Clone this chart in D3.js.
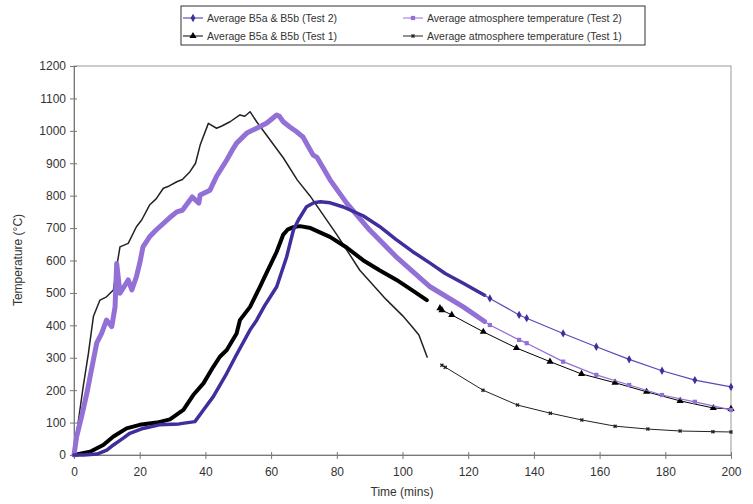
<!DOCTYPE html>
<html><head><meta charset="utf-8">
<script src="https://cdn.jsdelivr.net/npm/d3@7"></script>
<style>
body{margin:0;background:#fff;}
svg{font-family:"Liberation Sans",Arial,sans-serif;}
</style></head>
<body><svg id="c" width="753" height="504"></svg>
<script>
// ---------- data ----------
const xTicks = [0,20,40,60,80,100,120,140,160,180,200];
const yTicks = [0,100,200,300,400,500,600,700,800,900,1000,1100,1200];
const seriesNames = ["Average B5a & B5b (Test 2)","Average atmosphere temperature (Test 2)","Average B5a & B5b (Test 1)","Average atmosphere temperature (Test 1)"];

// Test 2, B5 average (dense logging then sparse)
const t2B5Dense = [[0,0],[3,0],[7,3],[10,15],[12,31],[15,52],[17,67],[21,82],[26,93],[32,96],[36.8,103],[39.4,139],[42.4,180],[46.5,252],[49.5,310],[53.6,386],[55.6,416],[58,460],[61.7,519],[64.7,610],[66.8,694],[68.3,725],[70.8,766],[73,778],[75,781],[78,778],[82,765],[88,738],[93,705],[98,665],[103,628],[108.4,592],[113,560],[118.5,530],[122,510],[125,493]];
const t2B5Sparse = [[125,493],[126.6,483],[135.5,432],[137.8,422],[148.9,375],[159,334],[169,295],[179,260],[189,231],[200,210]];

// Test 2, atmosphere
const t2AtmDense = [[0,0],[0.8,57],[2.3,118],[3.9,190],[4.9,242],[5.9,293],[6.9,345],[8.4,375],[9.9,416],[11.5,396],[12.5,457],[13,591],[14,499],[16.5,540],[17.6,509],[19,550],[20,591],[21,642],[23,673],[25,694],[29,731],[31.3,750],[33,755],[36,796],[38,777],[38.4,802],[41.4,817],[43.4,860],[46.5,910],[48.5,946],[49.5,962],[52.6,993],[55.6,1008],[58.7,1024],[61.7,1049],[62.5,1045],[63.7,1028],[65.7,1012],[67.8,997],[69.7,981],[72.8,925],[73.9,919],[78,848],[83,777],[90,694],[98,612],[108.4,519],[118.5,457],[125,412]];
const t2AtmSparse = [[125,412],[126.6,401],[135.5,355],[137.8,345],[148.9,288],[159,247],[169,216],[179,185],[189,164],[200,139]];

// Test 1, B5 average
const t1B5Dense = [[0,0],[4.9,10],[8.9,31],[12,57],[16,82],[20,93],[25.2,100],[29.2,110],[33.3,139],[36.3,185],[39.4,221],[42.4,272],[44.4,303],[46.5,324],[49.5,375],[50.5,416],[53.6,457],[56.6,519],[57.6,540],[61.7,627],[63.7,680],[65,695],[66.8,703],[68.8,706],[72,700],[77.9,673],[83,640],[88,601],[93,570],[98.2,540],[103,508],[107.4,478]];
const t1B5Sparse = [[111.4,453],[112,447],[115,432],[124.6,380],[134.7,330],[144.9,288],[154.5,250],[164.7,223],[174.3,195],[184.5,167],[194.6,145],[200,142]];

// Test 1, atmosphere
const t1AtmDense = [[0,0],[0.8,67],[2.8,211],[4.4,314],[5.9,427],[7.9,478],[9.9,488],[12,509],[13,581],[14,642],[16.5,653],[19,704],[20.6,725],[23,771],[25,790],[27.2,823],[29,830],[31.3,843],[33,850],[35.3,874],[37,900],[38.4,956],[40.9,1023],[43.4,1008],[45,1015],[47.5,1028],[50.5,1049],[52,1045],[53.6,1059],[55.6,1028],[63.7,917],[68,848],[71.8,800],[80,680],[87,570],[95,480],[100,430],[103,395],[105,370],[107.5,302]];
const t1AtmSparse = [[112,277],[113,271],[124.5,200],[135,154],[145,129],[154.6,108],[164.7,89],[174.7,80],[184.5,74],[194.5,72],[200,71]];

// ---------- chart ----------
const svg = d3.select("#c");
const x = d3.scaleLinear().domain([0,200]).range([74,731]);
const y = d3.scaleLinear().domain([0,1200]).range([455,66]);

const cBlue = "#3f2f9c", cPurple = "#9370d6", cBlack = "#000", cThin = "#222";

// plot border
svg.append("rect").attr("x",x(0)).attr("y",y(1200)).attr("width",x(200)-x(0)).attr("height",y(0)-y(1200))
  .attr("fill","#fff").attr("stroke","#999").attr("stroke-width",1);

// axes
const xAxis = svg.append("g").attr("transform",`translate(0,${y(0)})`)
  .call(d3.axisBottom(x).tickValues(xTicks).tickSize(4).tickFormat(d3.format("d")));
const yAxis = svg.append("g").attr("transform",`translate(${x(0)},0)`)
  .call(d3.axisLeft(y).tickValues(yTicks).tickSize(4).tickFormat(d3.format("d")));
[xAxis,yAxis].forEach(g=>{
  g.select(".domain").attr("stroke","#777");
  g.selectAll(".tick line").attr("stroke","#777");
  g.selectAll(".tick text").attr("fill","#333").style("font-size","12px");
});
xAxis.selectAll(".tick line").attr("y1",-3);
xAxis.selectAll(".tick text").attr("dy","1.2em");
yAxis.selectAll(".tick line").attr("x1",3);
yAxis.selectAll(".tick text").attr("x",-8);

svg.append("text").attr("x",402).attr("y",496).attr("text-anchor","middle")
  .attr("fill","#333").style("font-size","12px").text("Time (mins)");
svg.append("text").attr("transform","translate(22,260) rotate(-90)").attr("text-anchor","middle")
  .attr("fill","#333").style("font-size","12px").text("Temperature (°C)");

const line = d3.line().x(d=>x(d[0])).y(d=>y(d[1]));
const plot = svg.append("g");

function path(data,color,w){
  plot.append("path").datum(data).attr("d",line).attr("fill","none")
    .attr("stroke",color).attr("stroke-width",w).attr("stroke-linejoin","round").attr("stroke-linecap","round");
}
const sym = {
  diamond: d3.symbol().type(d3.symbolDiamond).size(20),
  square: d3.symbol().type(d3.symbolSquare).size(18),
  triangle: d3.symbol().type(d3.symbolTriangle).size(22),
  cross: d3.symbol().type(d3.symbolCross).size(10)
};
function markers(data,color,s,skipFirst){
  const d = skipFirst ? data.slice(1) : data;
  plot.selectAll(null).data(d).enter().append("path")
    .attr("transform",p=>`translate(${x(p[0])},${y(p[1])})${s==="cross"?" rotate(45)":""}`)
    .attr("d",sym[s]).attr("fill",color);
}

// Test 1 atmosphere
path(t1AtmDense,cThin,1.5);
path(t1AtmSparse,cThin,1);
markers(t1AtmSparse,cThin,"cross",false);
// Test 1 B5
path(t1B5Dense,cBlack,4);
path(t1B5Sparse,cBlack,1);
markers(t1B5Sparse,cBlack,"triangle",false);
// Test 2 atmosphere
path(t2AtmDense,cPurple,5);
path(t2AtmSparse,cPurple,1.2);
markers(t2AtmSparse,cPurple,"square",true);
// Test 2 B5
path(t2B5Dense,cBlue,3.5);
path(t2B5Sparse,"#5b48b8",1.2);
markers(t2B5Sparse,cBlue,"diamond",true);

// ---------- legend ----------
const lg = svg.append("g");
lg.append("rect").attr("x",181).attr("y",6).attr("width",464).attr("height",39)
  .attr("fill","#fff").attr("stroke","#333").attr("stroke-width",1);
const legendItems = [
  {name:seriesNames[0],color:cBlue,s:"diamond",lx:183,ly:18},
  {name:seriesNames[1],color:cPurple,s:"square",lx:403,ly:18},
  {name:seriesNames[2],color:cBlack,s:"triangle",lx:183,ly:36},
  {name:seriesNames[3],color:cThin,s:"cross",lx:403,ly:36}
];
legendItems.forEach(it=>{
  lg.append("line").attr("x1",it.lx).attr("x2",it.lx+20).attr("y1",it.ly).attr("y2",it.ly)
    .attr("stroke",it.color).attr("stroke-width",1);
  lg.append("path").attr("d",sym[it.s]).attr("fill",it.color)
    .attr("transform",`translate(${it.lx+10},${it.ly})${it.s==="cross"?" rotate(45)":""}`);
  lg.append("text").attr("x",it.lx+24).attr("y",it.ly+4).attr("fill","#333")
    .style("font-size","10.5px").text(it.name);
});
</script></body></html>
